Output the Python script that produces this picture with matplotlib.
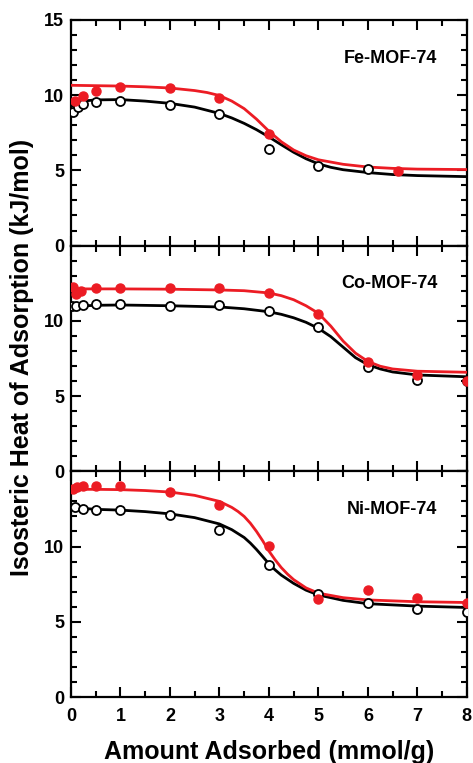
import matplotlib
matplotlib.use("Agg")
import matplotlib.pyplot as plt
from matplotlib.ticker import MultipleLocator

plt.rcParams['font.family'] = ['Liberation Sans', 'DejaVu Sans']
plt.rcParams['font.weight'] = 'bold'

RED = '#ec1c24'

panel_labels = ['Fe-MOF-74', 'Co-MOF-74', 'Ni-MOF-74']
x_label = 'Amount Adsorbed (mmol/g)'
y_label = 'Isosteric Heat of Adsorption (kJ/mol)'
y_ticks = [0, 5, 10, 15]
x_ticks = [0, 1, 2, 3, 4, 5, 6, 7, 8]

# ---- Fe-MOF-74 ----
fe_x_open = [0.05, 0.15, 0.25, 0.5, 1, 2, 3, 4, 5, 6]
fe_y_open = [8.89, 9.18, 9.4, 9.56, 9.62, 9.37, 8.76, 6.42, 5.32, 5.09]
fe_x_filled = [0.08, 0.25, 0.5, 1, 2, 3, 4, 6.6]
fe_y_filled = [9.6, 9.95, 10.27, 10.53, 10.5, 9.8, 7.42, 4.97]
fe_curve_x_black = [0, 0.15, 0.3, 0.5, 1, 1.5, 2, 2.5, 3, 3.25, 3.5, 3.75, 4, 4.25, 4.5, 4.75, 5, 5.25, 5.5, 6, 6.5, 7, 8]
fe_curve_y_black = [9.25, 9.5, 9.62, 9.68, 9.7, 9.6, 9.45, 9.2, 8.78, 8.48, 8.12, 7.7, 7.22, 6.7, 6.2, 5.77, 5.43, 5.2, 5.04, 4.85, 4.72, 4.65, 4.58]
fe_curve_x_red = [0, 1, 1.5, 2, 2.5, 2.75, 3, 3.25, 3.5, 3.75, 4, 4.25, 4.5, 4.75, 5, 5.5, 6, 6.5, 7, 8]
fe_curve_y_red = [10.65, 10.6, 10.55, 10.47, 10.3, 10.17, 9.97, 9.6, 9.1, 8.4, 7.6, 6.9, 6.35, 5.97, 5.7, 5.4, 5.22, 5.13, 5.08, 5.05]

# ---- Co-MOF-74 ----
co_x_open = [0.03, 0.1, 0.25, 0.5, 1, 2, 3, 4, 5, 6, 7, 8]
co_y_open = [10.97, 10.98, 11.04, 11.1, 11.1, 11.0, 11.04, 10.66, 9.6, 6.9, 6.07, 6.0]
co_x_filled = [0.05, 0.1, 0.2, 0.5, 1, 2, 3, 4, 5, 6, 7, 8]
co_y_filled = [12.25, 11.75, 11.95, 12.2, 12.2, 12.2, 12.15, 11.88, 10.48, 7.24, 6.4, 6.02]
co_curve_x_black = [0, 0.5, 1, 2, 3, 3.5, 4, 4.25, 4.5, 4.75, 5, 5.25, 5.5, 5.75, 6, 6.25, 6.5, 7, 8]
co_curve_y_black = [10.95, 11.03, 11.05, 11.0, 10.92, 10.8, 10.6, 10.43, 10.2, 9.9, 9.5, 8.95, 8.25, 7.55, 7.08, 6.8, 6.6, 6.4, 6.28]
co_curve_x_red = [0, 1, 2, 3, 3.5, 4, 4.25, 4.5, 4.75, 5, 5.25, 5.5, 5.75, 6, 6.25, 6.5, 7, 8]
co_curve_y_red = [12.12, 12.12, 12.1, 12.05, 12.0, 11.85, 11.67, 11.4, 11.0, 10.5, 9.65, 8.65, 7.85, 7.3, 6.98, 6.8, 6.65, 6.58]

# ---- Ni-MOF-74 ----
ni_x_open = [0.08, 0.25, 0.5, 1, 2, 3, 4, 5, 6, 7, 8]
ni_y_open = [12.65, 12.48, 12.45, 12.45, 12.12, 11.1, 8.75, 6.86, 6.23, 5.85, 5.68]
ni_x_filled = [0.05, 0.12, 0.25, 0.5, 1, 2, 3, 4, 5, 6, 7, 8]
ni_y_filled = [13.84, 13.95, 14.05, 14.0, 14.0, 13.6, 12.76, 10.04, 6.49, 7.1, 6.56, 6.27]
ni_curve_x_black = [0, 0.5, 1, 1.5, 2, 2.5, 3, 3.25, 3.5, 3.625, 3.75, 3.875, 4, 4.125, 4.25, 4.5, 4.75, 5, 5.5, 6, 7, 8]
ni_curve_y_black = [12.6, 12.47, 12.42, 12.32, 12.17, 11.92, 11.5, 11.12, 10.6, 10.23, 9.8, 9.33, 8.85, 8.45, 8.1, 7.55, 7.1, 6.78, 6.42, 6.2, 6.04, 5.95]
ni_curve_x_red = [0, 0.5, 1, 1.5, 2, 2.5, 3, 3.25, 3.375, 3.5, 3.625, 3.75, 3.875, 4, 4.125, 4.25, 4.375, 4.5, 4.75, 5, 5.5, 6, 7, 8]
ni_curve_y_red = [13.8, 13.8, 13.78, 13.72, 13.62, 13.4, 13.0, 12.6, 12.33, 12.0, 11.55, 11.0, 10.38, 9.7, 9.12, 8.6, 8.17, 7.8, 7.25, 6.9, 6.6, 6.45, 6.33, 6.28]

panels = [
    (fe_x_open, fe_y_open, fe_x_filled, fe_y_filled,
     fe_curve_x_black, fe_curve_y_black, fe_curve_x_red, fe_curve_y_red),
    (co_x_open, co_y_open, co_x_filled, co_y_filled,
     co_curve_x_black, co_curve_y_black, co_curve_x_red, co_curve_y_red),
    (ni_x_open, ni_y_open, ni_x_filled, ni_y_filled,
     ni_curve_x_black, ni_curve_y_black, ni_curve_x_red, ni_curve_y_red),
]

fig = plt.figure(figsize=(4.73, 7.63), dpi=100)
left, right, bottom, top = 0.150, 0.987, 0.0865, 0.974
h = (top - bottom) / 3.0

for i, (xo, yo, xf, yf, cxb, cyb, cxr, cyr) in enumerate(panels):
    ax = fig.add_axes([left, top - (i + 1) * h, right - left, h])
    ax.plot(cxb, cyb, color='black', lw=2.0, zorder=2, solid_joinstyle='round')
    ax.plot(cxr, cyr, color=RED, lw=2.0, zorder=3, solid_joinstyle='round')
    ax.plot(xo, yo, 'o', ms=6.5, mfc='white', mec='black', mew=1.3, zorder=4)
    ax.plot(xf, yf, 'o', ms=6.5, mfc=RED, mec=RED, mew=1.0, zorder=5)
    ax.set_xlim(0, 8)
    ax.set_ylim(0, 15)
    ax.set_xticks(x_ticks)
    ax.set_yticks(y_ticks)
    ax.xaxis.set_minor_locator(MultipleLocator(0.5))
    ax.yaxis.set_minor_locator(MultipleLocator(1))
    ax.tick_params(which='both', direction='in', top=True, right=True,
                   width=1.5, labelsize=13)
    ax.tick_params(which='major', length=7, pad=5)
    ax.tick_params(axis='x', which='major', pad=8)
    ax.tick_params(which='minor', length=4)
    for s in ax.spines.values():
        s.set_linewidth(1.6)
    if i < 2:
        ax.set_xticklabels([])
    else:
        ax.set_xticklabels([str(t) for t in x_ticks], fontweight='bold')
        ax.set_xlabel(x_label, fontsize=18, fontweight='bold', labelpad=11)
    if i == 0:
        ax.set_yticklabels([str(t) for t in y_ticks], fontweight='bold')
    else:
        ax.set_yticklabels([str(t) for t in y_ticks[:-1]] + [''], fontweight='bold')
    ax.text(7.4, 12.45, panel_labels[i], ha='right', va='center',
            fontsize=13, fontweight='bold')

fig.text(0.046, 0.531, y_label, rotation=90, ha='center', va='center',
         fontsize=18, fontweight='bold')

fig.savefig('out.png', dpi=100)
